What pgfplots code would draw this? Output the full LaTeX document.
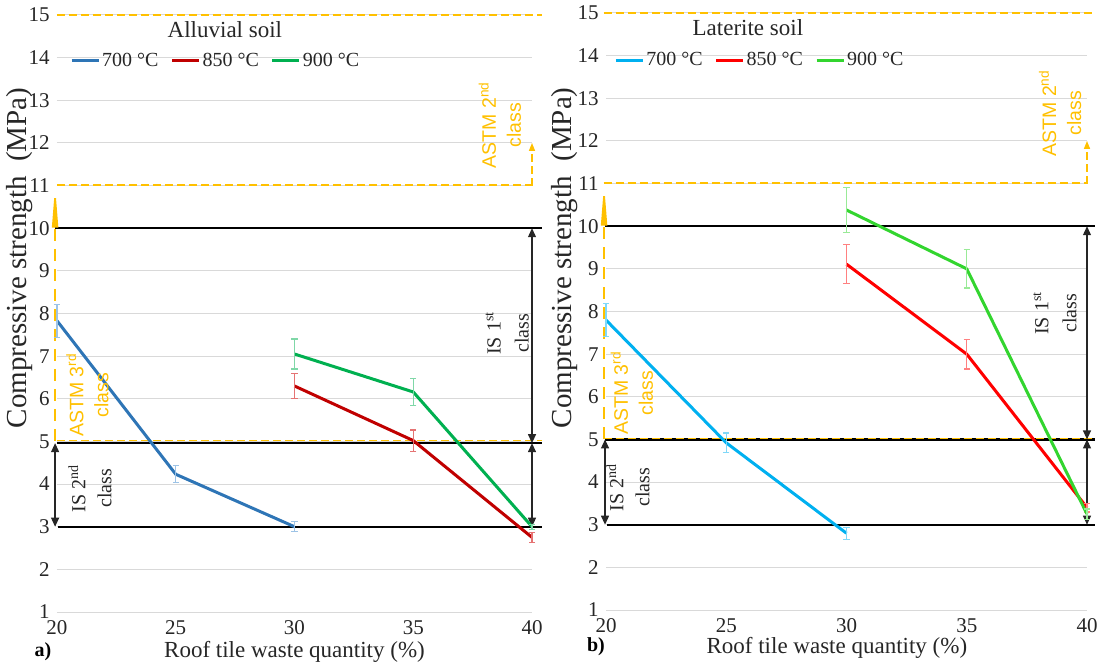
\documentclass[border=0pt]{standalone}
\usepackage{fontspec}
\setmainfont{Liberation Serif}
\newfontfamily\arial{Liberation Sans}
\usepackage{pgfplots}
\pgfplotsset{compat=1.18}
\usepackage{pgfplotstable}
\usetikzlibrary{arrows.meta}

\definecolor{blueA}{HTML}{2E75B6}
\definecolor{blueAe}{HTML}{9DC3E6}
\definecolor{redA}{HTML}{C00000}
\definecolor{redAe}{HTML}{E57373}
\definecolor{greenA}{HTML}{00B050}
\definecolor{greenAe}{HTML}{7FD7A7}
\definecolor{blueB}{HTML}{00B0F0}
\definecolor{blueBe}{HTML}{80D8F8}
\definecolor{redB}{HTML}{FF0000}
\definecolor{redBe}{HTML}{FF8080}
\definecolor{greenB}{HTML}{33D52F}
\definecolor{greenBe}{HTML}{99EA97}
\definecolor{astm}{HTML}{FFC000}
\definecolor{gridc}{HTML}{D9D9D9}

\pgfplotstableread{
x y e
20 7.83 0.39
25 4.23 0.20
30 3.00 0.12
}\aSeven
\pgfplotstableread{
x y e
30 6.30 0.30
35 5.02 0.25
40 2.75 0.12
}\aEight
\pgfplotstableread{
x y e
30 7.05 0.35
35 6.16 0.31
40 3.00 0.06
}\aNine
\pgfplotstableread{
x y e
20 7.80 0.38
25 4.92 0.23
30 2.80 0.14
}\bSeven
\pgfplotstableread{
x y e
30 9.11 0.46
35 7.00 0.35
40 3.40 0.10
}\bEight
\pgfplotstableread{
x y e
30 10.38 0.52
35 9.00 0.45
40 3.25 0.12
}\bNine

\pgfplotsset{
  myaxis/.style={
    scale only axis, anchor=south west,
    xmin=20, xmax=40, ymin=1, ymax=15,
    xtick={20,25,30,35,40}, ytick={1,...,15},
    axis line style={draw=none}, major tick length=0pt,
    ymajorgrids, grid style={gridc, line width=0.5pt},
    clip=false,
    tick label style={font=\fontsize{10.5}{12}\selectfont, black!85},
    /pgf/number format/assume math mode=true,
    yticklabel style={inner sep=0pt, xshift=-3.5pt},
    xticklabel style={inner sep=0pt, yshift=-4pt},
    label style={black!85},
    xlabel={Roof tile waste quantity (\%)},
    ylabel={Compressive strength\ \ (MPa)},
    xlabel style={font=\fontsize{11.5}{13}\selectfont, anchor=center},
    ylabel style={font=\fontsize{14.5}{16}\selectfont, anchor=center},
    legend columns=3,
    legend style={draw=none, fill=none, font=\fontsize{10}{12}\selectfont, anchor=west, inner sep=0pt,
      nodes={inner sep=1pt, black!85},
      /tikz/every even column/.append style={column sep=5pt}},
    legend image code/.code={\draw[#1, line width=1.5pt] (0pt,0pt) -- (13.5pt,0pt);},
  },
  ser/.style n args={2}{#1, line width=1.5pt, mark=none, line join=round,
    error bars/.cd, y dir=both, y explicit, error mark=-,
    error bar style={#2, line width=0.6pt},
    error mark options={rotate=90, #2, line width=0.6pt, mark size=1.6pt}},
}
\tikzset{
  refline/.style={line width=1.2pt, black},
  orl/.style={astm, dash pattern=on 4pt off 2pt, line width=0.75pt},
  darr/.style={black!85, line width=0.6pt, {Triangle[length=4.5pt,width=4pt]}-{Triangle[length=4.5pt,width=4pt]}},
}

\begin{document}
\begin{tikzpicture}
\useasboundingbox (0,0) rectangle (549.5pt,335.5pt);

% ---------- a) Alluvial soil ----------
\begin{axis}[myaxis, at={(28.5pt,29.5pt)}, width=237.5pt, height=298.5pt,
  xlabel style={at={(axis description cs:0.5,-0.067)}},
  ylabel style={at={(axis description cs:-0.0779,0.593)}},
  legend style={at={(axis description cs:0.027,0.923)}}]
\draw[refline] (axis cs:19.9,10) -- (axis cs:40.4,10);
\draw[refline] (axis cs:20,4.96) -- (axis cs:40.4,4.96);
\draw[refline] (axis cs:20.05,3) -- (axis cs:40.4,3);
\draw[orl] (axis cs:20,15) -- (axis cs:40.4,15);
\draw[orl] (axis cs:20,11.01) -- (axis cs:40,11.01);
\draw[orl] (axis cs:20,5.02) -- (axis cs:40.4,5.02);
\draw[orl, -{Triangle[length=4pt,width=3pt]}] (axis cs:40,11) -- (axis cs:40,12);
\draw[astm, dash pattern=on 6pt off 4pt, line width=0.9pt, -{Triangle[length=21pt,width=3pt]}] (axis cs:19.92,5.02) -- (axis cs:19.92,11);
\draw[darr] (axis cs:40,10) -- (axis cs:40,4.96);
\draw[darr] (axis cs:40,4.96) -- (axis cs:40,3);
\draw[darr] (axis cs:19.92,4.96) -- (axis cs:19.92,3);

\addplot[ser={blueA}{blueAe}] table[x=x,y=y,y error=e] {\aSeven};
\addlegendentry{700 °C}
\addplot[ser={redA}{redAe}] table[x=x,y=y,y error=e] {\aEight};
\addlegendentry{850 °C}
\addplot[ser={greenA}{greenAe}] table[x=x,y=y,y error=e] {\aNine};
\addlegendentry{900 °C}

\node[font=\fontsize{11.5}{13}\selectfont, black!85] at (axis cs:27.07,14.65) {Alluvial soil};
\node[rotate=90, align=center, astm, font=\arial\fontsize{9.75}{12.5}\selectfont] at (axis cs:38.65,12.42) {ASTM 2\textsuperscript{nd}\\class};
\node[rotate=90, align=center, astm, font=\arial\fontsize{9.75}{12.5}\selectfont] at (axis cs:21.28,6.09) {ASTM 3\textsuperscript{rd}\\class};
\node[rotate=90, align=center, black!85, font=\fontsize{10}{14}\selectfont] at (axis cs:38.95,7.54) {IS 1\textsuperscript{st}\\class};
\node[rotate=90, align=center, black!85, font=\fontsize{10}{13}\selectfont] at (axis cs:21.39,3.9) {IS 2\textsuperscript{nd}\\class};
\end{axis}
\node[font=\bfseries\fontsize{10}{12}\selectfont] at (21.5pt,9.5pt) {a)};

% ---------- b) Laterite soil ----------
\begin{axis}[myaxis, at={(303pt,30.5pt)}, width=240.5pt, height=298.5pt,
  xlabel style={at={(axis description cs:0.48,-0.0637)}},
  ylabel style={at={(axis description cs:-0.0852,0.59)}},
  legend style={at={(axis description cs:0.0166,0.921)}}]
\draw[refline] (axis cs:19.95,10) -- (axis cs:40.33,10);
\draw[refline] (axis cs:19.95,5) -- (axis cs:40.33,5);
\draw[refline] (axis cs:20.05,3) -- (axis cs:40.33,3);
\draw[orl] (axis cs:19.9,15) -- (axis cs:40.2,15);
\draw[orl] (axis cs:19.9,11.01) -- (axis cs:40,11.01);
\draw[orl] (axis cs:19.9,5.02) -- (axis cs:40.33,5.02);
\draw[orl, -{Triangle[length=4pt,width=3pt]}] (axis cs:40,11) -- (axis cs:40,12);
\draw[astm, dash pattern=on 6pt off 4pt, line width=0.9pt, -{Triangle[length=21pt,width=3pt]}] (axis cs:19.92,5.02) -- (axis cs:19.92,11);
\draw[darr] (axis cs:40,10) -- (axis cs:40,5);
\draw[darr] (axis cs:40,5) -- (axis cs:40,3);
\draw[darr] (axis cs:19.96,5) -- (axis cs:19.96,3);

\addplot[ser={blueB}{blueBe}] table[x=x,y=y,y error=e] {\bSeven};
\addlegendentry{700 °C}
\addplot[ser={redB}{redBe}] table[x=x,y=y,y error=e] {\bEight};
\addlegendentry{850 °C}
\addplot[ser={greenB}{greenBe}] table[x=x,y=y,y error=e] {\bNine};
\addlegendentry{900 °C}

\node[font=\fontsize{11.5}{13}\selectfont, black!85] at (axis cs:25.9,14.65) {Laterite soil};
\node[rotate=90, align=center, astm, font=\arial\fontsize{9.75}{12.5}\selectfont] at (axis cs:38.88,12.65) {ASTM 2\textsuperscript{nd}\\class};
\node[rotate=90, align=center, astm, font=\arial\fontsize{9.75}{12.5}\selectfont] at (axis cs:21.08,6.09) {ASTM 3\textsuperscript{rd}\\class};
\node[rotate=90, align=center, black!85, font=\fontsize{10}{14}\selectfont] at (axis cs:38.67,7.96) {IS 1\textsuperscript{st}\\class};
\node[rotate=90, align=center, black!85, font=\fontsize{10}{13}\selectfont] at (axis cs:20.91,3.88) {IS 2\textsuperscript{nd}\\class};
\end{axis}
\node[font=\bfseries\fontsize{10}{12}\selectfont] at (298pt,12pt) {b)};
\end{tikzpicture}
\end{document}
